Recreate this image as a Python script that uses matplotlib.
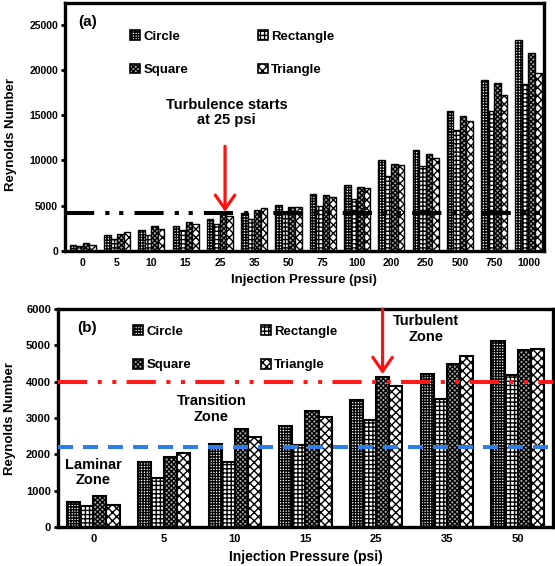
import matplotlib
matplotlib.use('Agg')
import matplotlib.pyplot as plt
from matplotlib.patches import Patch
import numpy as np

plt.rcParams['font.family'] = ['Liberation Sans', 'DejaVu Sans']
plt.rcParams['font.weight'] = 'bold'
plt.rcParams['hatch.linewidth'] = 1.0
plt.rcParams['lines.scale_dashes'] = False

# ---- data ----
shapes = ['Circle', 'Rectangle', 'Square', 'Triangle']

pressure_a = ['0', '5', '10', '15', '25', '35', '50', '75', '100', '200', '250', '500', '750', '1000']
circle_a = [700, 1790, 2280, 2780, 3500, 4210, 5120, 6280, 7300, 10070, 11170, 15510, 18830, 23290]
rectangle_a = [570, 1340, 1790, 2270, 2940, 3530, 4180, 4960, 5730, 8320, 9340, 13320, 15510, 18400]
square_a = [850, 1930, 2710, 3200, 4140, 4490, 4880, 6130, 7080, 9600, 10660, 14930, 18500, 21830]
triangle_a = [610, 2050, 2470, 3020, 3890, 4710, 4890, 5990, 6970, 9450, 10290, 14340, 17260, 19600]

pressure_b = ['0', '5', '10', '15', '25', '35', '50']
circle_b = [700, 1790, 2280, 2780, 3500, 4210, 5120]
rectangle_b = [570, 1340, 1790, 2270, 2940, 3530, 4180]
square_b = [850, 1930, 2710, 3200, 4140, 4490, 4880]
triangle_b = [610, 2050, 2470, 3020, 3890, 4710, 4890]

turb_level_a = 4200
turb_level_b = 4000
lam_level_b = 2200

# ---- styles ----
hatches = ['++++++', '++++', 'xxxxxxx', 'xxxx']
faces = ['white', 'white', '#a8a8a8', 'white']


def draw_bars(ax, cats, series, width, lw):
    x = np.arange(len(cats))
    for k, vals in enumerate(series):
        ax.bar(x + (k - 1.5) * width, vals, width, color=faces[k],
               edgecolor='black', hatch=hatches[k], linewidth=lw, zorder=2)
    ax.set_xticks(x)
    ax.set_xticklabels(cats)


def style_axes(ax, fs):
    for sp in ax.spines.values():
        sp.set_linewidth(2.4)
    ax.tick_params(axis='x', length=0, pad=5, labelsize=fs)
    ax.tick_params(axis='y', length=3, width=2, pad=2, labelsize=fs)
    for lab in ax.get_xticklabels() + ax.get_yticklabels():
        lab.set_fontweight('bold')


def add_legend(ax, x0, y0):
    hs = [Patch(facecolor=faces[k], edgecolor='black', hatch=hatches[k], linewidth=1.2)
          for k in range(4)]
    order = [0, 2, 1, 3]
    leg = ax.legend([hs[i] for i in order], [shapes[i] for i in order],
                    ncol=2, loc='upper left', bbox_to_anchor=(x0, y0),
                    frameon=False, borderpad=0, borderaxespad=0,
                    handlelength=0.75, handleheight=0.75, handletextpad=0.25,
                    columnspacing=5.3, labelspacing=1.6,
                    prop={'weight': 'bold', 'size': 9.5})
    return leg


fig = plt.figure(figsize=(5.55, 5.66), dpi=100)

# ---- panel (a) ----
ax1 = fig.add_axes([0.117, 0.5565, 0.863, 0.4385])
draw_bars(ax1, pressure_a, [circle_a, rectangle_a, square_a, triangle_a], 0.19, 1.0)
ax1.set_xlim(-0.52, 13.45)
ax1.set_ylim(0, 27400)
ax1.set_yticks([0, 5000, 10000, 15000, 20000, 25000])
style_axes(ax1, 7.5)
ax1.axhline(turb_level_a, color='black', lw=2.9, dashes=(21, 8, 3, 7, 3, 8), zorder=3)
ax1.set_xlabel('Injection Pressure (psi)', fontsize=9.5, fontweight='bold', labelpad=4)
ax1.set_ylabel('Reynolds Number', fontsize=9.5, fontweight='bold')
ax1.yaxis.set_label_coords(-0.1, 0.47)
ax1.text(0.027, 0.923, '(a)', transform=ax1.transAxes, fontsize=11,
         fontweight='bold', va='center', ha='left')
ax1.text(4.2, 15330, 'Turbulence starts\nat 25 psi', fontsize=10.5,
         fontweight='bold', ha='center', va='center', linespacing=1.1)
ax1.annotate('', xy=(4.15, 4330), xytext=(4.15, 11560),
             arrowprops=dict(arrowstyle='->,head_length=0.5,head_width=0.35',
                             color='#ff1010', lw=2.3, mutation_scale=20,
                             shrinkA=0, shrinkB=0), zorder=4)
add_legend(ax1, 0.136, 0.89)

# ---- panel (b) ----
ax2 = fig.add_axes([0.1045, 0.0689, 0.8919, 0.3851])
draw_bars(ax2, pressure_b, [circle_b, rectangle_b, square_b, triangle_b], 0.185, 1.5)
ax2.set_xlim(-0.5, 6.5)
ax2.set_ylim(0, 6000)
ax2.set_yticks(np.arange(0, 6001, 1000))
style_axes(ax2, 8)
ax2.axhline(turb_level_b, color='#ff1a1a', lw=2.9, dashes=(21, 7.6, 2.9, 7.6, 2.9, 7.4), zorder=3)
ax2.axhline(lam_level_b, color='#2f7de8', lw=2.9, dashes=(10.8, 7.2), zorder=3)
ax2.set_xlabel('Injection Pressure (psi)', fontsize=10, fontweight='bold', labelpad=4)
ax2.set_ylabel('Reynolds Number', fontsize=9.5, fontweight='bold')
ax2.yaxis.set_label_coords(-0.085, 0.5)
ax2.text(-0.226, 5477, '(b)', fontsize=11, fontweight='bold', va='center', ha='left')
ax2.text(1.67, 3248, 'Transition\nZone', fontsize=10.5, fontweight='bold',
         ha='center', va='center', linespacing=1.1)
ax2.text(0.0, 1500, 'Laminar\nZone', fontsize=10.5, fontweight='bold',
         ha='center', va='center', linespacing=1.1)
ax2.text(4.70, 5450, 'Turbulent\nZone', fontsize=10.5, fontweight='bold',
         ha='center', va='center', linespacing=1.1)
ax2.annotate('', xy=(4.09, 4211), xytext=(4.09, 6000),
             arrowprops=dict(arrowstyle='->,head_length=0.5,head_width=0.35',
                             color='#ff1010', lw=2.3, mutation_scale=20,
                             shrinkA=0, shrinkB=0), zorder=4)
add_legend(ax2, 0.152, 0.925)

fig.savefig('out.png', dpi=100)
